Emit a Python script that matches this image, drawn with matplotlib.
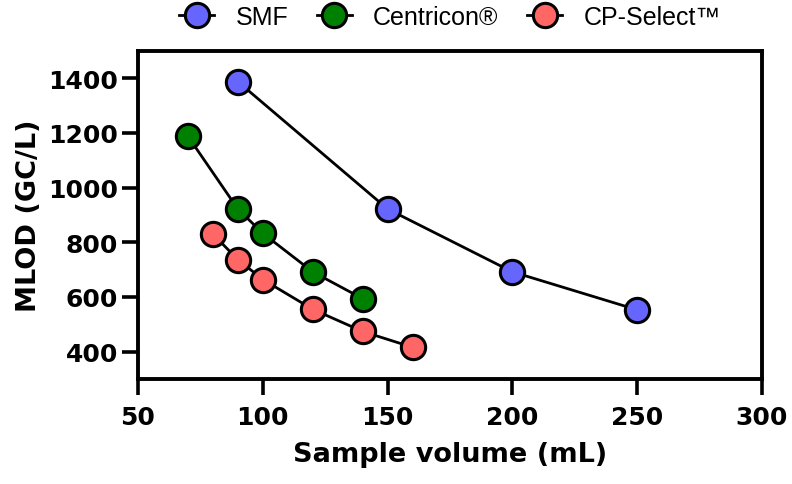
import matplotlib
matplotlib.use("Agg")
import matplotlib.pyplot as plt

smf_x = [90, 150, 200, 250]
smf_y = [1388, 922, 692, 553]
cen_x = [70, 90, 100, 120, 140]
cen_y = [1188, 922, 833, 692, 594]
cps_x = [80, 90, 100, 120, 140, 160]
cps_y = [830, 737, 664, 555, 474, 416]

series_names = ["SMF", "Centricon®", "CP-Select™"]
series_colors = ["#6666FF", "#008000", "#FF6666"]
x_ticks = [50, 100, 150, 200, 250, 300]
y_ticks = [400, 600, 800, 1000, 1200, 1400]

fig = plt.figure(figsize=(7.92, 4.85), dpi=100)
ax = fig.add_axes([138/792, 1-380/485, (762-138)/792, (380-52)/485])

handles = []
for xs, ys, name, col in zip([smf_x, cen_x, cps_x], [smf_y, cen_y, cps_y],
                             series_names, series_colors):
    h, = ax.plot(xs, ys, color="black", lw=2.0, marker="o", ms=17.5,
                 mfc=col, mec="black", mew=2.2, label=name, clip_on=False, zorder=3)
    handles.append(h)

ax.set_xlim(50, 300)
ax.set_ylim(300, 1500)
ax.set_xticks(x_ticks)
ax.set_yticks(y_ticks)

tick_font = dict(family="DejaVu Sans", weight="bold", size=18)
ax.set_xticklabels([str(v) for v in x_ticks], fontdict=tick_font)
ax.set_yticklabels([str(v) for v in y_ticks], fontdict=tick_font)

for s in ax.spines.values():
    s.set_linewidth(2.8)
ax.tick_params(axis="both", length=11.5, width=2.6, color="black")
ax.tick_params(axis="x", pad=7)
ax.tick_params(axis="y", pad=3)

lab_font = dict(family="DejaVu Sans", weight="bold", size=19.5)
ax.set_xlabel("Sample volume (mL)", fontdict=lab_font, labelpad=9)
ax.set_ylabel("MLOD (GC/L)", fontdict=lab_font, labelpad=4)

fig.legend(handles=handles, loc="center", bbox_to_anchor=(450/792, 1-18/485),
           ncol=3, frameon=False, prop=dict(family="Liberation Sans", size=18),
           handlelength=1.4, handletextpad=0.85, columnspacing=1.15,
           borderaxespad=0, borderpad=0)

fig.savefig("out.png", dpi=100)
